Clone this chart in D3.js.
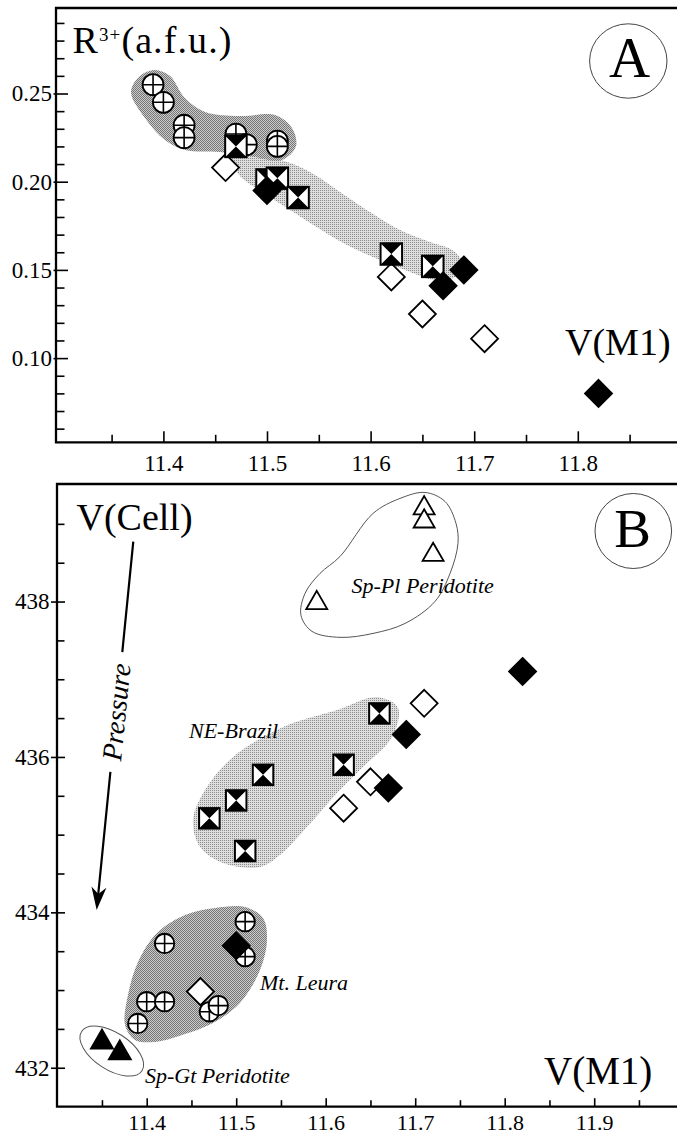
<!DOCTYPE html>
<html>
<head>
<meta charset="utf-8">
<script src="https://cdn.jsdelivr.net/npm/d3@7"></script>
<style>
  html, body { margin: 0; padding: 0; background: #fff; }
  svg { display: block; }
  text { font-family: "Liberation Serif", "Times New Roman", serif; fill: #000; }
</style>
</head>
<body>
<svg id="chart" width="677" height="1137"></svg>
<script>
// ---- Mt. Leura (crossed circles) ----
const vm1Leura   = [11.39, 11.40, 11.42, 11.42, 11.47, 11.48, 11.51, 11.51];
const r3Leura    = [0.255, 0.245, 0.232, 0.225, 0.227, 0.221, 0.223, 0.220];
const vcellLeura = [432.57, 432.85, 433.60, 432.85, 432.72, 432.80, 433.88, 433.43];

// ---- NE-Brazil (hourglass squares) ----
const vm1Brazil   = [11.47, 11.50, 11.51, 11.53, 11.62, 11.66];
const r3Brazil    = [0.220, 0.201, 0.202, 0.191, 0.159, 0.152];
const vcellBrazil = [435.21, 435.44, 434.79, 435.77, 435.90, 436.56];

// ---- open diamonds ----
const vm1Open   = [11.46, 11.62, 11.65, 11.71];
const r3Open    = [0.208, 0.146, 0.125, 0.111];
const vcellOpen = [432.98, 435.34, 435.68, 436.69];

// ---- filled diamonds ----
const vm1Filled   = [11.50, 11.67, 11.69, 11.82];
const r3Filled    = [0.195, 0.141, 0.150, 0.080];
const vcellFilled = [433.57, 435.60, 436.29, 437.10];

// ---- Sp-Pl peridotite (open triangles) ----
const vm1SpPl   = [11.59, 11.71, 11.71, 11.72];
const vcellSpPl = [438.02, 439.24, 439.07, 438.64];

// ---- Sp-Gt peridotite (filled triangles) ----
const vm1SpGt   = [11.35, 11.37];
const vcellSpGt = [432.37, 432.23];

// ---- tick values / labels ----
const xTicksA = [11.4, 11.5, 11.6, 11.7, 11.8];
const xMinorA = [11.35, 11.45, 11.55, 11.65, 11.75, 11.85];
const yTicksA = [0.10, 0.15, 0.20, 0.25];
const xTicksB = [11.4, 11.5, 11.6, 11.7, 11.8, 11.9];
const xMinorB = [11.35, 11.45, 11.55, 11.65, 11.75, 11.85, 11.95];
const yTicksB = [432, 434, 436, 438];

// ---- shaded fields (data coordinates) ----
const leuraFieldA = [[11.3687,0.2509],[11.3774,0.2599],[11.3919,0.2633],[11.4064,0.2599],[11.4208,0.2474],
  [11.4402,0.2395],[11.4739,0.2372],[11.5077,0.2378],[11.5241,0.2304],[11.5280,0.2202],[11.5145,0.2123],
  [11.4836,0.2145],[11.4546,0.2168],[11.4208,0.2180],[11.4015,0.2236],[11.3822,0.2361]];
const brazilFieldA = [[11.4643,0.2134],[11.5125,0.2123],[11.5415,0.2055],[11.5705,0.1942],[11.5994,0.1828],
  [11.6284,0.1726],[11.6573,0.1658],[11.6786,0.1613],[11.6882,0.1545],[11.6815,0.1460],[11.6622,0.1443],
  [11.6332,0.1500],[11.6043,0.1568],[11.5753,0.1647],[11.5463,0.1749],[11.5222,0.1840],[11.4952,0.1942],
  [11.4739,0.2032]];
const brazilFieldB = [[11.4517,435.188],[11.4651,435.574],[11.4964,435.999],[11.5523,436.385],[11.6126,436.604],
  [11.6573,436.771],[11.6808,436.629],[11.6741,436.256],[11.6417,435.870],[11.6126,435.535],[11.5791,435.097],
  [11.5489,434.737],[11.5266,434.583],[11.4852,434.635],[11.4596,434.841]];
const leuraFieldB = [[11.3758,432.550],[11.3791,432.936],[11.3903,433.361],[11.4115,433.734],[11.4428,433.966],
  [11.4763,434.056],[11.5098,434.069],[11.5299,433.927],[11.5344,433.644],[11.5266,433.258],[11.5042,432.833],
  [11.4741,432.576],[11.4428,432.434],[11.4093,432.332],[11.3869,432.358]];
const spPlOutline = [[11.6160,438.580],[11.6529,439.134],[11.6830,439.327],[11.7110,439.404],[11.7333,439.288],
  [11.7456,439.005],[11.7478,438.748],[11.7389,438.361],[11.7221,438.001],[11.6886,437.718],[11.6529,437.590],
  [11.6160,437.539],[11.5847,437.616],[11.5724,437.822],[11.5769,438.105],[11.5936,438.362]];
const spGtCentre = [11.361, 432.215];

// pressure arrow (start, tip) in V(M1) / V(Cell) units
const pressureArrow = [[11.385, 438.77], [11.3441, 434.03]];

// ---- scales ----
const xA = d3.scaleLinear().domain([11.3, 11.9]).range([59.8, 681.4]);
const yA = d3.scaleLinear().domain([0.05, 0.30]).range([446.3, 5.3]);
const xB = d3.scaleLinear().domain([11.3, 12.0]).range([57.2, 683.7]);
const yB = d3.scaleLinear().domain([431.5, 439.5]).range([1106.6, 485]);

const frameA = { left: 56, top: 8, bottom: 442.3, right: 677 };
const frameB = { left: 57, top: 484, bottom: 1106.7, right: 677 };

const svg = d3.select("#chart");
svg.append("rect").attr("width", 677).attr("height", 1137).attr("fill", "#fff");

// halftone-like stipple fills
const defs = svg.append("defs");
function stipple(id, bg, dot, cells) {
  const p = defs.append("pattern").attr("id", id).attr("patternUnits", "userSpaceOnUse")
    .attr("width", 2).attr("height", 2);
  p.append("rect").attr("width", 2).attr("height", 2).attr("fill", bg);
  cells.forEach(c => p.append("rect").attr("x", c[0]).attr("y", c[1]).attr("width", 1).attr("height", 1).attr("fill", dot));
}
stipple("darkDots", "#cbcbcb", "#767676", [[0, 0], [1, 1]]);
stipple("lightDots", "#dedede", "#8c8c8c", [[0, 0]]);

const blob = d3.line().curve(d3.curveCatmullRomClosed.alpha(0.5));

function field(g, pts, x, y, fill) {
  g.append("path").attr("d", blob(pts.map(d => [x(d[0]), y(d[1])]))).attr("fill", fill).attr("stroke", "none");
}

// ---- axes ----
function drawAxes(g, x, y, f, o) {
  // x axis: ticks pointing into the plot
  const xa = g.append("g").attr("transform", `translate(0,${f.bottom})`)
    .call(d3.axisBottom(x).tickValues(o.xMajor).tickSize(-o.xMajorLen).tickPadding(o.xPad).tickFormat(d3.format(".1f")));
  xa.select(".domain").remove();
  xa.selectAll("line").attr("stroke", "#000").attr("stroke-width", 1.6);
  xa.selectAll("text").style("font-size", o.xFont + "px").style("font-family", "'Liberation Serif', serif");
  const xm = g.append("g").attr("transform", `translate(0,${f.bottom})`)
    .call(d3.axisBottom(x).tickValues(o.xMinor).tickSize(-o.xMinorLen).tickFormat(""));
  xm.select(".domain").remove();
  xm.selectAll("line").attr("stroke", "#000").attr("stroke-width", 1.6);

  // y axis: major ticks cross the axis line, minor ticks inside only
  const ya = g.append("g").attr("transform", `translate(${f.left},0)`)
    .call(d3.axisLeft(y).tickValues(o.yMajor).tickSize(o.yOut).tickPadding(o.yPad).tickFormat(o.yFmt));
  ya.select(".domain").remove();
  ya.selectAll(".tick line").attr("x2", o.yIn).attr("x1", -o.yOut).attr("stroke", "#000").attr("stroke-width", 1.6);
  ya.selectAll("text").style("font-size", "23px").style("font-family", "'Liberation Serif', serif");
  const ym = g.append("g").attr("transform", `translate(${f.left},0)`)
    .call(d3.axisLeft(y).tickValues(o.yMinor).tickSize(0).tickFormat(""));
  ym.select(".domain").remove();
  ym.selectAll(".tick line").attr("x1", 0).attr("x2", o.yMinorLen).attr("stroke", "#000").attr("stroke-width", 1.6);

  // frame: left, top and bottom lines
  g.append("path")
    .attr("d", `M${f.right},${f.top}H${f.left}V${f.bottom}H${f.right}`)
    .attr("fill", "none").attr("stroke", "#000").attr("stroke-width", 2.3);
}

// ---- marker builders ----
function crossCircles(g, pts, x, y, r) {
  const m = g.selectAll(null).data(pts).join("g")
    .attr("transform", d => `translate(${x(d[0])},${y(d[1])})`);
  m.append("circle").attr("r", r).attr("fill", "#fff").attr("stroke", "#000").attr("stroke-width", 1.8);
  m.append("path").attr("d", `M${-r},0H${r}M0,${-r}V${r}`).attr("stroke", "#000").attr("stroke-width", 1.6);
}
function hourglassSquares(g, pts, x, y, s) {
  const h = s / 2;
  const m = g.selectAll(null).data(pts).join("g")
    .attr("transform", d => `translate(${x(d[0])},${y(d[1])})`);
  m.append("rect").attr("x", -h).attr("y", -h).attr("width", s).attr("height", s)
    .attr("fill", "#fff").attr("stroke", "#000").attr("stroke-width", 2);
  m.append("path").attr("d", `M${-h},${-h}L${h},${-h}L0,0ZM${-h},${h}L${h},${h}L0,0Z`).attr("fill", "#000");
}
function diamonds(g, pts, x, y, r, filled) {
  g.selectAll(null).data(pts).join("path")
    .attr("transform", d => `translate(${x(d[0])},${y(d[1])})`)
    .attr("d", `M0,${-r}L${r},0L0,${r}L${-r},0Z`)
    .attr("fill", filled ? "#000" : "#fff").attr("stroke", "#000").attr("stroke-width", 1.8)
    .attr("stroke-linejoin", "miter");
}
function triangles(g, pts, x, y, s, filled) {
  const h = s * Math.sqrt(3) / 2;
  g.selectAll(null).data(pts).join("path")
    .attr("transform", d => `translate(${x(d[0])},${y(d[1])})`)
    .attr("d", `M0,${-h / 2}L${s / 2},${h / 2}L${-s / 2},${h / 2}Z`)
    .attr("fill", filled ? "#000" : "#fff").attr("stroke", "#000").attr("stroke-width", 1.8);
}

// ================= Panel A : R3+ vs V(M1) =================
const gA = svg.append("g");
field(gA, brazilFieldA, xA, yA, "url(#lightDots)");
field(gA, leuraFieldA, xA, yA, "url(#darkDots)");
drawAxes(gA, xA, yA, frameA, {
  xMajor: xTicksA, xMinor: xMinorA, xMajorLen: 11, xMinorLen: 7.5, xPad: 12.5, xFont: 23,
  yMajor: yTicksA, yMinor: d3.range(6, 30).map(v => v / 100).filter(v => !yTicksA.some(t => Math.abs(t - v) < 1e-6)),
  yOut: 2.5, yIn: 12, yPad: 1.5, yMinorLen: 8.5, yFmt: d3.format(".2f")
});
crossCircles(gA, d3.zip(vm1Leura, r3Leura), xA, yA, 10.5);
diamonds(gA, d3.zip(vm1Open, r3Open), xA, yA, 13.5, false);
hourglassSquares(gA, d3.zip(vm1Brazil, r3Brazil), xA, yA, 21.5);
diamonds(gA, d3.zip(vm1Filled, r3Filled), xA, yA, 13.5, true);

// axis titles and panel letter
const rLabel = gA.append("text").attr("x", 72.5).attr("y", 53).attr("font-size", 38).attr("letter-spacing", 1.1);
rLabel.append("tspan").text("R");
rLabel.append("tspan").attr("font-size", 19).attr("dy", -12).text("3+");
rLabel.append("tspan").attr("dy", 12).text("(a.f.u.)");
gA.append("text").attr("x", 565).attr("y", 355).attr("font-size", 38).text("V(M1)");
gA.append("ellipse").attr("cx", 628.3).attr("cy", 61).attr("rx", 38.7).attr("ry", 37.2)
  .attr("fill", "none").attr("stroke", "#444").attr("stroke-width", 1);
gA.append("text").attr("x", 629.5).attr("y", 77).attr("font-size", 57).attr("text-anchor", "middle").text("A");

// ================= Panel B : V(Cell) vs V(M1) =================
const gB = svg.append("g");
field(gB, brazilFieldB, xB, yB, "url(#lightDots)");
field(gB, leuraFieldB, xB, yB, "url(#darkDots)");
gB.append("path").attr("d", blob(spPlOutline.map(d => [xB(d[0]), yB(d[1])])))
  .attr("fill", "none").attr("stroke", "#555").attr("stroke-width", 1);
gB.append("ellipse")
  .attr("transform", `translate(${xB(spGtCentre[0])},${yB(spGtCentre[1])}) rotate(33)`)
  .attr("rx", 36).attr("ry", 18.5).attr("fill", "none").attr("stroke", "#555").attr("stroke-width", 1);

drawAxes(gB, xB, yB, frameB, {
  xMajor: xTicksB, xMinor: xMinorB, xMajorLen: 8.5, xMinorLen: 6.5, xPad: 8, xFont: 22,
  yMajor: yTicksB, yMinor: d3.range(865, 879).map(v => v / 2).filter(v => !yTicksB.includes(v)),
  yOut: 6, yIn: 8, yPad: 1.5, yMinorLen: 7.5, yFmt: d3.format("d")
});

crossCircles(gB, d3.zip(vm1Leura, vcellLeura), xB, yB, 9.7);
diamonds(gB, d3.zip(vm1Open, vcellOpen), xB, yB, 13.5, false);
hourglassSquares(gB, d3.zip(vm1Brazil, vcellBrazil), xB, yB, 20.5);
diamonds(gB, d3.zip(vm1Filled, vcellFilled), xB, yB, 13.5, true);
triangles(gB, d3.zip(vm1SpPl, vcellSpPl), xB, yB, 21, false);
triangles(gB, d3.zip(vm1SpGt, vcellSpGt), xB, yB, 22, true);

// group labels
const italic = (g, x, y, s, t) => g.append("text").attr("x", x).attr("y", y)
  .attr("font-size", s).attr("font-style", "italic").text(t);
italic(gB, 351.5, 593, 22, "Sp-Pl Peridotite");
italic(gB, 189, 738, 22, "NE-Brazil");
italic(gB, 260, 990, 22, "Mt. Leura");
italic(gB, 145, 1083, 22, "Sp-Gt Peridotite");

gB.append("text").attr("x", 76.5).attr("y", 530).attr("font-size", 38).text("V(Cell)");
gB.append("text").attr("x", 544).attr("y", 1084).attr("font-size", 39).text("V(M1)");
gB.append("ellipse").attr("cx", 633.3).attr("cy", 531).attr("rx", 38.3).attr("ry", 37.5)
  .attr("fill", "none").attr("stroke", "#444").attr("stroke-width", 1);
gB.append("text").attr("x", 632.5).attr("y", 547).attr("font-size", 55).attr("text-anchor", "middle").text("B");

// pressure arrow with its label set into the shaft
const S = [xB(pressureArrow[0][0]), yB(pressureArrow[0][1])];
const T = [xB(pressureArrow[1][0]), yB(pressureArrow[1][1])];
const at = t => [S[0] + (T[0] - S[0]) * t, S[1] + (T[1] - S[1]) * t];
const len = Math.hypot(T[0] - S[0], T[1] - S[1]);
const ux = (T[0] - S[0]) / len, uy = (T[1] - S[1]) / len;
const p1 = at(0.30), p2 = at(0.625), mid = at(0.4624);
const headBase = [T[0] - ux * 16, T[1] - uy * 16];
gB.append("path")
  .attr("d", `M${S}L${p1}M${p2}L${headBase}`)
  .attr("stroke", "#000").attr("stroke-width", 2.2).attr("fill", "none");
const back = [T[0] - ux * 23, T[1] - uy * 23];
gB.append("path")
  .attr("d", `M${T}L${back[0] - uy * 7.5},${back[1] + ux * 7.5}L${headBase}L${back[0] + uy * 7.5},${back[1] - ux * 7.5}Z`)
  .attr("fill", "#000");
const ang = Math.atan2(S[1] - T[1], S[0] - T[0]) * 180 / Math.PI;
gB.append("text")
  .attr("transform", `translate(${mid[0]},${mid[1]}) rotate(${ang})`)
  .attr("text-anchor", "middle").attr("dominant-baseline", "central")
  .attr("font-size", 28).attr("font-style", "italic").text("Pressure");
</script>
</body>
</html>
